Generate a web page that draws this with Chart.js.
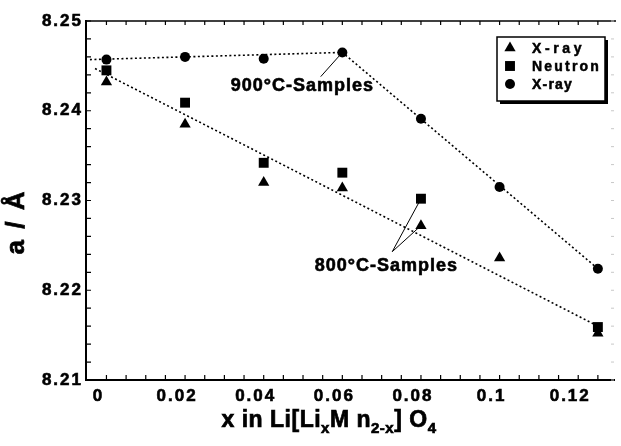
<!DOCTYPE html>
<html>
<head>
<meta charset="utf-8">
<script src="https://cdn.jsdelivr.net/npm/chart.js@4.4.1/dist/chart.umd.min.js"></script>
<style>
  body { margin: 0; background: #fff; }
  #wrap { width: 621px; height: 446px; }
</style>
</head>
<body>
<div id="wrap"><canvas id="myChart" width="621" height="446"></canvas></div>
<script>
// composition x in Li[LixMn2-x]O4
var xValues    = [0, 0.02, 0.04, 0.06, 0.08, 0.1, 0.125];
var xray800    = [8.2432, 8.2385, 8.2320, 8.2314, 8.2272, 8.2236, 8.2152];
var neutron800 = [8.2445, 8.2409, 8.2342, 8.2331, 8.2302, null, 8.2159];
var xray900    = [8.2457, 8.2460, 8.2458, 8.2465, 8.2391, 8.2315, 8.2224];

// dotted guide lines
var fit900X = [-0.0042, 0.06, 0.125];
var fit900Y = [8.2457, 8.2465, 8.2224];
var fit800X = [-0.0029, 0.125];
var fit800Y = [8.2447, 8.2160];

var xTicks = [0, 0.02, 0.04, 0.06, 0.08, 0.1, 0.12];
var yTicks = [8.21, 8.22, 8.23, 8.24, 8.25];

function pairs(xs, ys) {
    var out = [];
    for (var i = 0; i < xs.length; i++) {
        if (ys[i] !== null) out.push({x: xs[i], y: ys[i]});
    }
    return out;
}

function spaced(ctx, px) {
    if ('letterSpacing' in ctx) ctx.letterSpacing = px + 'px';
}

// fill + thin stroke, the scan has heavy type
function boldText(c, s, x, y) {
    c.fillText(s, x, y);
    c.strokeText(s, x, y);
}

var decor = {
    id: 'decor',
    beforeLayout: function(chart) { spaced(chart.ctx, 2); },
    beforeDraw: function(chart) {
        var c = chart.ctx;
        c.save();
        c.fillStyle = '#fff';
        c.fillRect(0, 0, chart.width, chart.height);
        c.restore();
        spaced(c, 2);
    },
    afterDraw: function(chart) {
        var c = chart.ctx, a = chart.chartArea;
        var xs = chart.scales.x, ys = chart.scales.y;
        var v, p;
        c.save();
        c.strokeStyle = '#000';
        // top axis line
        c.lineWidth = 1.5;
        c.beginPath(); c.moveTo(a.left, a.top); c.lineTo(a.right + 2, a.top); c.stroke();
        // ticks
        c.lineWidth = 1.2;
        c.beginPath();
        for (v = 0; v <= 0.1251; v += 0.005) {
            p = xs.getPixelForValue(v);
            c.moveTo(p, a.bottom); c.lineTo(p, a.bottom - 5);
            c.moveTo(p, a.top); c.lineTo(p, a.top + 4);
        }
        for (v = 8.21; v <= 8.2501; v += 0.002) {
            p = ys.getPixelForValue(v);
            c.moveTo(a.left, p); c.lineTo(a.left + 5, p);
        }
        c.stroke();
        // faint right side
        c.strokeStyle = '#c8c8c8';
        c.lineWidth = 1;
        c.beginPath();
        for (v = 8.21; v <= 8.2501; v += 0.002) {
            p = ys.getPixelForValue(v);
            c.moveTo(a.right, p); c.lineTo(a.right - 3, p);
        }
        c.stroke();

        // annotations
        c.strokeStyle = '#000';
        c.fillStyle = '#000';
        c.lineWidth = 1;
        c.beginPath();
        c.moveTo(xs.getPixelForValue(0.0545), ys.getPixelForValue(8.2438));
        c.lineTo(xs.getPixelForValue(0.06), ys.getPixelForValue(8.2465));
        c.moveTo(xs.getPixelForValue(0.0727), ys.getPixelForValue(8.2243));
        c.lineTo(xs.getPixelForValue(0.08), ys.getPixelForValue(8.2302));
        c.moveTo(xs.getPixelForValue(0.0727), ys.getPixelForValue(8.2243));
        c.lineTo(xs.getPixelForValue(0.08), ys.getPixelForValue(8.2272));
        c.stroke();
        c.font = 'bold 18px "Liberation Sans", Arial, sans-serif';
        c.textBaseline = 'middle';
        c.textAlign = 'left';
        c.lineWidth = 0.6;
        spaced(c, 1);
        boldText(c, '900\u00B0C-Samples', xs.getPixelForValue(0.0316), ys.getPixelForValue(8.2427));
        boldText(c, '800\u00B0C-Samples', xs.getPixelForValue(0.0530), ys.getPixelForValue(8.2227));

        // legend
        var bx = 497, by = 37, bw = 108, bh = 64;
        c.fillStyle = '#000';
        c.fillRect(bx + 3, by + 3, bw, bh);
        c.fillStyle = '#fff';
        c.fillRect(bx, by, bw, bh);
        c.lineWidth = 1.5;
        c.strokeRect(bx, by, bw, bh);
        var gaps = [3.6, 2.2, 1.2];
        c.font = 'bold 14px "Liberation Sans", Arial, sans-serif';
        [0, 1, 2].forEach(function(i) {
            var ds = chart.data.datasets[i];
            var ry = by + 11 + i * 18;
            c.fillStyle = '#000';
            if (Chart.helpers && Chart.helpers.drawPoint) {
                Chart.helpers.drawPoint(c, {pointStyle: ds.pointStyle, radius: ds.pointRadius, rotation: 0, borderWidth: 0}, bx + 13, ry);
            }
            spaced(c, gaps[i]);
            c.fillStyle = '#000';
            c.lineWidth = 0.5;
            boldText(c, ds.label, bx + 35, ry + 1);
        });

        // axis titles
        c.fillStyle = '#000';
        c.lineWidth = 0.7;
        spaced(c, 2);
        c.save();
        c.translate(17, 222);
        c.rotate(-Math.PI / 2);
        c.textAlign = 'center';
        c.font = 'bold 26px "Liberation Sans", Arial, sans-serif';
        boldText(c, 'a / \u00C5', 0, 0);
        c.restore();

        var parts = [['x in Li[Li', 0], ['x', 1], ['M n', 0], ['2-x', 1], ['] O', 0], ['4', 1]];
        var mainF = 'bold 23px "Liberation Sans", Arial, sans-serif';
        var subF = 'bold 15px "Liberation Sans", Arial, sans-serif';
        spaced(c, 0.5);
        var total = 0;
        parts.forEach(function(pt) { c.font = pt[1] ? subF : mainF; total += c.measureText(pt[0]).width; });
        var tx = 329 - total / 2, ty = 421;
        c.textAlign = 'left';
        parts.forEach(function(pt) {
            c.font = pt[1] ? subF : mainF;
            boldText(c, pt[0], tx, pt[1] ? ty + 8 : ty);
            tx += c.measureText(pt[0]).width;
        });
        c.restore();
        spaced(c, 2);
    }
};

var tickFont = {family: '"Liberation Sans", Arial, sans-serif', size: 17, weight: 'bold'};

var myChart = new Chart(document.getElementById('myChart'), {
    type: 'scatter',
    data: {
        datasets: [{
            label: 'X-ray',
            data: pairs(xValues, xray800),
            pointStyle: 'triangle',
            pointRadius: 6.5,
            backgroundColor: '#000',
            borderWidth: 0
        }, {
            label: 'Neutron',
            data: pairs(xValues, neutron800),
            pointStyle: 'rect',
            pointRadius: 7,
            backgroundColor: '#000',
            borderWidth: 0
        }, {
            label: 'X-ray',
            data: pairs(xValues, xray900),
            pointStyle: 'circle',
            pointRadius: 5,
            backgroundColor: '#000',
            borderWidth: 0
        }, {
            label: 'fit900',
            data: pairs(fit900X, fit900Y),
            showLine: true,
            pointRadius: 0,
            borderColor: '#000',
            borderWidth: 1.6,
            borderDash: [2, 2.5]
        }, {
            label: 'fit800',
            data: pairs(fit800X, fit800Y),
            showLine: true,
            pointRadius: 0,
            borderColor: '#000',
            borderWidth: 1.6,
            borderDash: [2, 2.5]
        }]
    },
    options: {
        responsive: false,
        animation: false,
        layout: { padding: { top: 21, right: 2, left: 0, bottom: 0 } },
        plugins: {
            legend: { display: false },
            tooltip: { enabled: false }
        },
        scales: {
            x: {
                type: 'linear',
                min: -0.0052,
                max: 0.1291,
                afterFit: function(scale) { scale.height = 66; },
                afterBuildTicks: function(scale) {
                    scale.ticks = xTicks.map(function(v) { return {value: v}; });
                },
                grid: { display: false, drawTicks: false },
                border: { display: true, color: '#000', width: 2 },
                ticks: {
                    color: '#000',
                    font: tickFont,
                    padding: 6,
                    labelOffset: -8,
                    maxRotation: 0,
                    autoSkip: false,
                    textStrokeColor: '#000',
                    textStrokeWidth: 0.6,
                    callback: function(v) { return String(+v.toFixed(3)); }
                }
            },
            y: {
                min: 8.21,
                max: 8.25,
                afterFit: function(scale) { scale.width = 86; },
                afterBuildTicks: function(scale) {
                    scale.ticks = yTicks.map(function(v) { return {value: v}; });
                },
                grid: { display: false, drawTicks: false },
                border: { display: true, color: '#000', width: 2 },
                ticks: {
                    color: '#000',
                    font: tickFont,
                    padding: 3,
                    autoSkip: false,
                    textStrokeColor: '#000',
                    textStrokeWidth: 0.6,
                    callback: function(v) { return v.toFixed(2); }
                }
            }
        }
    },
    plugins: [decor]
});
</script>
</body>
</html>
